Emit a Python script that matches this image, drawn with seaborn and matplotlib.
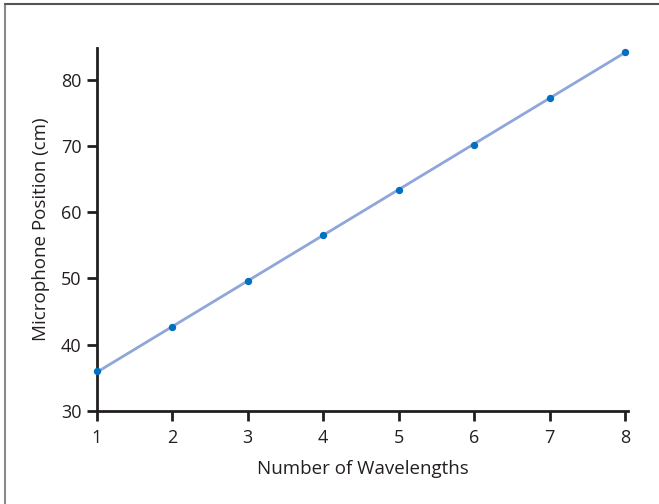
import matplotlib
matplotlib.use("Agg")
import matplotlib.pyplot as plt
import seaborn as sns
import pandas as pd
from matplotlib.lines import Line2D

wavelengths = [1, 2, 3, 4, 5, 6, 7, 8]
position_cm = [36.0, 42.7, 49.6, 56.5, 63.4, 70.1, 77.3, 84.2]
x_ticks = [1, 2, 3, 4, 5, 6, 7, 8]
y_ticks = [30, 40, 50, 60, 70, 80]

df = pd.DataFrame({"n": wavelengths, "pos": position_cm})

sns.set_style("ticks")
plt.rcParams["font.family"] = ["Open Sans", "DejaVu Sans"]

fig = plt.figure(figsize=(6.59, 5.04), dpi=100)
ax = fig.add_axes([0.147, 0.1845, 0.806, 0.7205])

sns.regplot(
    data=df, x="n", y="pos", ax=ax, ci=None,
    scatter_kws={"color": "#0070c0", "s": 28, "alpha": 1, "zorder": 5,
                 "linewidths": 0, "clip_on": False},
    line_kws={"color": "#8ea6da", "lw": 2.0, "zorder": 2},
)

ax.set_xlim(1, 8.04)
ax.set_ylim(30, 84.8)
ax.set_xticks(x_ticks)
ax.set_yticks(y_ticks)
ax.tick_params(axis="both", direction="out", length=7, width=2, color="#231f20",
               labelsize=13, labelcolor="#231f20")
ax.tick_params(axis="x", pad=6)
ax.tick_params(axis="y", pad=4)
for side in ["left", "bottom"]:
    ax.spines[side].set_linewidth(2)
    ax.spines[side].set_color("#231f20")
sns.despine(ax=ax)

ax.set_xlabel("Number of Wavelengths", fontsize=13.5, color="#231f20", labelpad=9)
ax.set_ylabel("Microphone Position (cm)", fontsize=13.5, color="#231f20", labelpad=8)

# outer frame
fig.add_artist(Line2D([5 / 659, 5 / 659], [0, 1 - 4 / 504], transform=fig.transFigure,
                      color="#8a8a8a", lw=1.5))
fig.add_artist(Line2D([5 / 659, 1], [1 - 4 / 504, 1 - 4 / 504], transform=fig.transFigure,
                      color="#555555", lw=1.5))

fig.savefig("out.png", dpi=100)
plt.close(fig)
